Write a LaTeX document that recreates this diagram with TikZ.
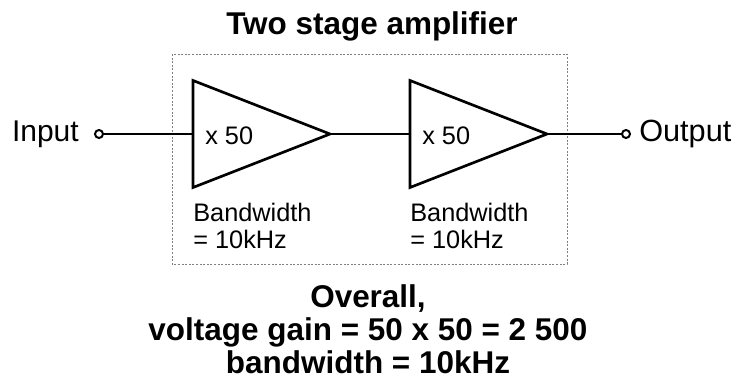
\documentclass[tikz,border=0pt]{standalone}
\usepackage{fontspec}
\setmainfont{Liberation Sans}
\usetikzlibrary{positioning,shapes.geometric}
\tikzset{
amp/.style = {isosceles triangle, isosceles triangle stretches, draw, line width=2pt,
  inner sep=0pt, outer sep=0pt, minimum height=102.75pt, minimum width=80.25pt, anchor=west},
term/.style = {circle, draw, fill=white, line width=1.5pt, minimum size=6pt, inner sep=0pt},
wire/.style = {line width=2pt},
lbl/.style = {inner sep=0pt, font=\fontsize{19}{21}\selectfont},
big/.style = {inner sep=0pt, font=\fontsize{23.6}{25}\selectfont\bfseries}
}

\begin{document}
\begin{tikzpicture}[x=0.75pt, y=-0.75pt]
  \useasboundingbox (0,0) rectangle (736,381);
  % frame round the two stages
  \draw[gray, line width=0.6pt, dash pattern=on 1.5pt off 1.2pt] (172,54) rectangle (567,264);
  \node [big, anchor=base] (title) at (372,35) {Two stage amplifier};

  \node [amp] (amp1) at (193,134) {};
  \node [amp] (amp2) at (410,134) {};
  \node [term] (in) at (99,134) {};
  \node [term] (out) at (626,134) {};

  \node [lbl, anchor=base east, font=\fontsize{22.5}{24}\selectfont] (inlbl) at (79,142) {Input};
  \node [lbl, anchor=base west, font=\fontsize{23}{24}\selectfont] (outlbl) at (639,142) {Output};

  \node [lbl, anchor=base west] (gain1) at (205,145) {x 50};
  \node [lbl, anchor=base west] (gain2) at (422,145) {x 50};
  \node [lbl, anchor=north west, align=left, font=\fontsize{19}{20.5}\selectfont] (bw1) at (193,203) {Bandwidth\\= 10kHz};
  \node [lbl, anchor=north west, align=left, font=\fontsize{19}{20.5}\selectfont] (bw2) at (410,203) {Bandwidth\\= 10kHz};

  \draw [wire] (in) -- (amp1.west);
  \draw [wire] (amp1.east) -- (amp2.west);
  \draw [wire] (amp2.east) -- (out);

  \node [big, anchor=north, align=center] (total) at (368,284)
    {Overall,\\voltage gain = 50 x 50 = 2 500\\bandwidth = 10kHz};
\end{tikzpicture}
\end{document}
